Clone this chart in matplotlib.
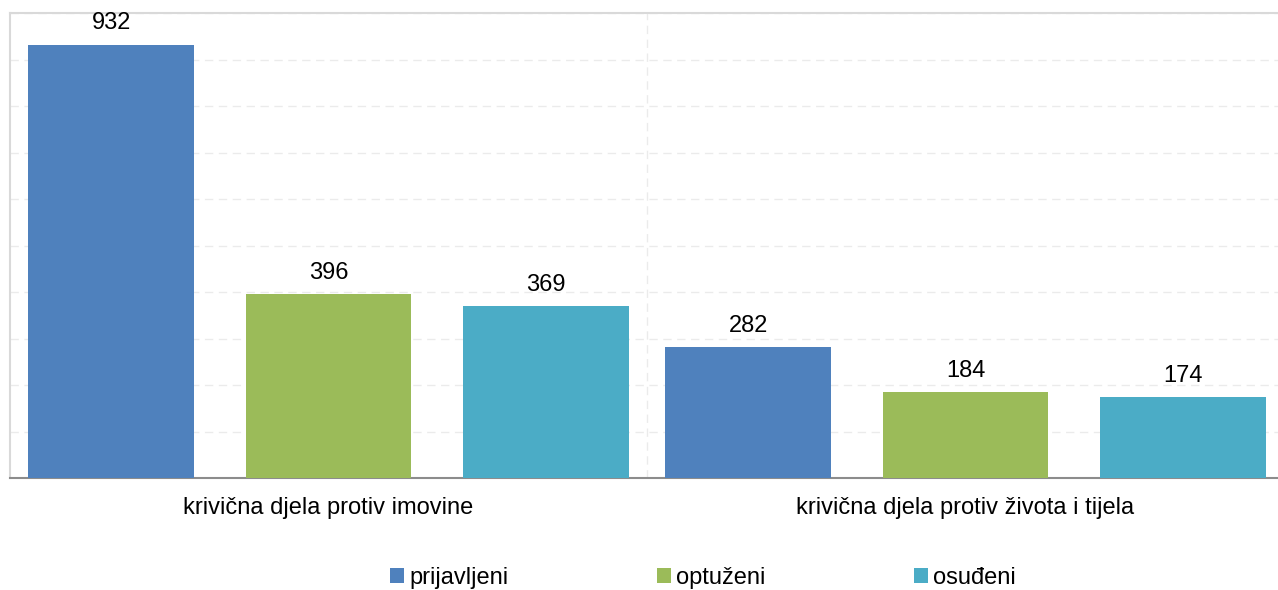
import matplotlib.pyplot as plt
import numpy as np

plt.rcParams['font.family'] = ['Liberation Sans', 'DejaVu Sans']

categories = ["krivična djela protiv imovine", "krivična djela protiv života i tijela"]
series = ["prijavljeni", "optuženi", "osuđeni"]
prijavljeni = [932, 282]
optuzeni = [396, 184]
osudeni = [369, 174]
colors = ["#4F81BD", "#9BBB59", "#4BACC6"]

fig = plt.figure(figsize=(12.78, 5.9), dpi=100)
ax = fig.add_axes([10 / 1278, 1 - 478 / 590, 1274 / 1278, 465 / 590])

x = np.arange(len(categories))
width = 0.26
offsets = [-0.341, 0, 0.341]
for vals, off, c, name in zip([prijavljeni, optuzeni, osudeni], offsets, colors, series):
    bars = ax.bar(x + off, vals, width, color=c, label=name, zorder=3)
    for b, v in zip(bars, vals):
        ax.text(b.get_x() + b.get_width() / 2, v + 22, str(v), ha="center",
                va="bottom", fontsize=17, color="#000000")

ax.set_xlim(-0.5, 1.5)
ax.set_ylim(0, 1000)
ax.set_yticks(np.arange(0, 1001, 100))
ax.set_yticklabels([])
ax.tick_params(axis="y", length=0)
ax.tick_params(axis="x", length=0, pad=14, labelsize=17)
ax.set_xticks(x)
ax.set_xticklabels(categories)
ax.grid(axis="y", color="#ebebeb", linestyle=(0, (6, 4)), linewidth=1, zorder=0)
ax.axvline(0.5, color="#ebebeb", linestyle=(0, (6, 4)), linewidth=1, zorder=0)

for s in ["top", "left", "right"]:
    ax.spines[s].set_color("#d9d9d9")
    ax.spines[s].set_linewidth(1.5)
ax.spines["bottom"].set_color("#8c8c8c")
ax.spines["bottom"].set_linewidth(1.5)

handles, labels = ax.get_legend_handles_labels()
fig.legend(handles, labels, loc="center", bbox_to_anchor=(0.55, 0.02), ncol=3,
           frameon=False, fontsize=17, handlelength=0.6, handleheight=0.6,
           handletextpad=0.2, columnspacing=6.3)

fig.savefig("out.png", dpi=100)
